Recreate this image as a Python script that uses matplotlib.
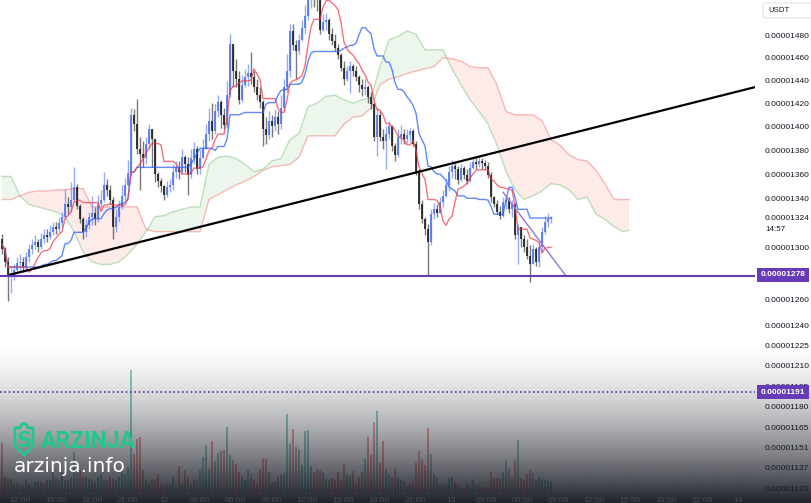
import numpy as np
import pandas as pd
import matplotlib
matplotlib.use("Agg")
import matplotlib.pyplot as plt
from matplotlib.patches import Polygon, FancyBboxPatch
from matplotlib.ticker import NullLocator, FixedLocator

plt.rcParams['font.family'] = ['Liberation Sans', 'DejaVu Sans']

UNIT = 1e-8  # prices below are in units of 0.00000001 USDT

# 15-minute candles (first open, then close / high / low)
first_open = 1307
closes = [1299, 1289, 1277, 1279, 1283, 1288, 1289, 1285, 1293, 1299,
          1302, 1305, 1301, 1307, 1310, 1309, 1313, 1317, 1315, 1320,
          1325, 1335, 1333, 1339, 1349, 1334, 1323, 1313, 1318, 1325,
          1328, 1323, 1335, 1339, 1351, 1347, 1339, 1317, 1325, 1333,
          1342, 1351, 1361, 1410, 1402, 1381, 1377, 1373, 1385, 1398,
          1389, 1360, 1354, 1350, 1343, 1349, 1351, 1362, 1366, 1362,
          1374, 1368, 1359, 1373, 1381, 1364, 1373, 1381, 1394, 1405,
          1396, 1413, 1421, 1410, 1401, 1427, 1472, 1448, 1441, 1423,
          1436, 1443, 1446, 1443, 1434, 1427, 1421, 1398, 1393, 1405,
          1400, 1408, 1402, 1416, 1434, 1448, 1484, 1471, 1466, 1476,
          1487, 1498, 1515, 1522, 1518, 1512, 1485, 1492, 1494, 1481,
          1475, 1469, 1462, 1451, 1441, 1448, 1453, 1448, 1443, 1436,
          1432, 1434, 1425, 1419, 1391, 1410, 1391, 1388, 1394, 1400,
          1383, 1376, 1391, 1394, 1389, 1393, 1396, 1385, 1362, 1335,
          1323, 1315, 1305, 1327, 1331, 1328, 1337, 1342, 1351, 1362,
          1367, 1364, 1355, 1365, 1359, 1354, 1365, 1370, 1368, 1371,
          1369, 1367, 1359, 1341, 1335, 1329, 1326, 1337, 1339, 1331,
          1335, 1310, 1317, 1307, 1301, 1294, 1287, 1299, 1289, 1301,
          1313, 1321, 1323, 1324]
highs = [1311, 1301, 1293, 1285, 1287, 1293, 1295, 1293, 1297, 1303,
         1307, 1310, 1307, 1312, 1315, 1315, 1318, 1321, 1321, 1325,
         1329, 1348, 1341, 1353, 1366, 1352, 1335, 1325, 1323, 1329,
         1342, 1333, 1343, 1347, 1362, 1356, 1351, 1341, 1331, 1339,
         1351, 1357, 1372, 1416, 1415, 1424, 1391, 1388, 1391, 1402,
         1398, 1381, 1362, 1357, 1351, 1354, 1356, 1368, 1371, 1371,
         1381, 1376, 1374, 1381, 1387, 1383, 1381, 1389, 1402, 1416,
         1420, 1419, 1427, 1423, 1416, 1439, 1481, 1472, 1459, 1448,
         1445, 1450, 1454, 1465, 1448, 1441, 1434, 1423, 1408, 1413,
         1410, 1415, 1413, 1427, 1441, 1463, 1490, 1490, 1476, 1481,
         1494, 1508, 1530, 1545, 1548, 1535, 1510, 1499, 1500, 1496,
         1487, 1481, 1472, 1464, 1457, 1453, 1457, 1454, 1453, 1445,
         1441, 1441, 1436, 1430, 1420, 1416, 1413, 1398, 1400, 1405,
         1401, 1386, 1398, 1401, 1398, 1398, 1399, 1398, 1388, 1364,
         1339, 1325, 1319, 1331, 1336, 1335, 1341, 1347, 1357, 1367,
         1372, 1370, 1367, 1368, 1367, 1364, 1370, 1374, 1373, 1375,
         1373, 1372, 1370, 1362, 1342, 1339, 1334, 1341, 1343, 1341,
         1339, 1336, 1319, 1315, 1310, 1307, 1302, 1303, 1301, 1304,
         1317, 1326, 1328, 1326]
lows = [1295, 1285, 1259, 1265, 1275, 1280, 1283, 1281, 1281, 1289,
        1295, 1299, 1297, 1299, 1304, 1305, 1307, 1310, 1311, 1313,
        1317, 1323, 1327, 1329, 1337, 1331, 1320, 1307, 1309, 1315,
        1318, 1318, 1321, 1333, 1337, 1342, 1335, 1307, 1313, 1321,
        1331, 1339, 1350, 1359, 1396, 1377, 1347, 1366, 1368, 1381,
        1366, 1353, 1349, 1345, 1339, 1341, 1345, 1347, 1357, 1356,
        1360, 1362, 1343, 1357, 1368, 1360, 1360, 1373, 1381, 1388,
        1389, 1394, 1408, 1399, 1398, 1399, 1425, 1434, 1434, 1419,
        1421, 1434, 1435, 1437, 1430, 1423, 1416, 1383, 1385, 1389,
        1391, 1396, 1394, 1398, 1413, 1430, 1443, 1467, 1441, 1463,
        1475, 1481, 1494, 1505, 1506, 1502, 1481, 1484, 1485, 1476,
        1471, 1466, 1459, 1448, 1436, 1439, 1429, 1444, 1439, 1430,
        1426, 1427, 1420, 1415, 1388, 1375, 1388, 1381, 1364, 1389,
        1379, 1371, 1374, 1385, 1385, 1386, 1388, 1383, 1359, 1331,
        1320, 1310, 1279, 1302, 1323, 1325, 1328, 1333, 1341, 1346,
        1357, 1356, 1352, 1354, 1356, 1352, 1353, 1364, 1364, 1366,
        1364, 1364, 1357, 1337, 1333, 1327, 1323, 1325, 1331, 1328,
        1325, 1307, 1287, 1301, 1297, 1291, 1273, 1289, 1286, 1285,
        1297, 1311, 1317, 1320]
volumes = [50, 16, 14, 14, 9, 10, 8, 8, 14, 9, 6, 11, 12, 11, 9, 13, 13, 21, 15, 13,
           21, 13, 13, 16, 41, 20, 23, 16, 16, 14, 13, 11, 16, 19, 13, 13, 16, 14, 13, 16,
           23, 19, 26, 123, 39, 54, 56, 23, 13, 11, 14, 13, 19, 9, 8, 9, 8, 16, 6, 27,
           9, 23, 16, 9, 13, 13, 23, 36, 48, 24, 52, 32, 40, 42, 43, 66, 38, 33, 29, 21,
           16, 13, 23, 19, 13, 8, 24, 34, 34, 21, 11, 11, 16, 18, 19, 79, 49, 64,
           46, 44, 28, 62, 63, 27, 21, 24, 23, 21, 14, 13, 15, 13, 21, 13, 29, 19,
           17, 22, 9, 16, 21, 34, 56, 38, 71, 82, 30, 52, 24, 19, 16, 24, 16, 13,
           12, 6, 9, 12, 31, 42, 34, 28, 65, 39, 19, 16, 8, 8, 9, 15, 16, 11,
           9, 6, 5, 9, 7, 13, 9, 8, 6, 6, 5, 21, 15, 15, 15, 21, 33, 24,
           15, 33, 53, 15, 13, 19, 23, 20, 13, 16, 14, 13, 13, 12]

# Ichimoku cloud (leading spans, drawn 26 bars ahead), every 3rd bar
cloud_idx = list(range(0, 208, 3)) + [209]
span_a = [1358, 1358, 1342, 1335, 1333, 1331, 1329, 1325, 1313, 1297,
          1289, 1287, 1287, 1289, 1295, 1303, 1313, 1325, 1326, 1329,
          1331, 1333, 1333, 1368, 1374, 1375, 1373, 1368, 1362, 1364,
          1371, 1373, 1389, 1394, 1417, 1420, 1426, 1427, 1423, 1420,
          1423, 1425, 1452, 1476, 1479, 1484, 1481, 1467, 1467, 1467,
          1450, 1436, 1423, 1413, 1402, 1384, 1362, 1347, 1339, 1342,
          1346, 1352, 1351, 1347, 1339, 1341, 1327, 1323, 1317, 1313, 1314]
span_b = [1339, 1339, 1342, 1345, 1346, 1346, 1347, 1347, 1348, 1348,
          1333, 1333, 1333, 1333, 1333, 1333, 1315, 1313, 1313, 1313,
          1313, 1313, 1313, 1339, 1343, 1347, 1351, 1354, 1358, 1363,
          1366, 1367, 1368, 1374, 1392, 1392, 1392, 1392, 1402, 1408,
          1409, 1416, 1436, 1441, 1443, 1446, 1448, 1450, 1452, 1460,
          1459, 1457, 1452, 1451, 1451, 1436, 1413, 1410, 1410, 1410,
          1405, 1389, 1384, 1376, 1372, 1371, 1363, 1352, 1339, 1339, 1339]

price_ticks = [1480, 1460, 1440, 1420, 1400, 1380, 1360, 1340, 1324, 1300,
               1260, 1240, 1225, 1210, 1195, 1180, 1165, 1151, 1137, 1123]
support_level = 1278
volume_level = 1191
trend_line = ([2.67, 251], [1279, 1434])
down_line = ([167, 187.7], [1345, 1279])
time_labels = ["12:00", "15:00", "18:00", "21:00", "12", "03:00", "06:00", "09:00",
               "12:00", "15:00", "18:00", "21:00", "13", "03:00", "06:00", "09:00",
               "12:00", "15:00", "18:00", "21:00", "14"]

W, H = 811, 503
fig = plt.figure(figsize=(W / 100, H / 100), dpi=100, facecolor='white')

# volume pane (behind)
vax = fig.add_axes([0, 10 / H, 755 / W, 150 / H], zorder=0)
vax.set_xlim(-2 / 3, 753 / 3)
vax.set_ylim(0, 150)
vax.axis('off')

ax = fig.add_axes([0, 0, 755 / W, 1], zorder=1)
ax.patch.set_alpha(0)
ax.set_yscale('log')
ax.set_xlim(-2 / 3, 753 / 3)
ax.set_ylim(1300 * np.exp(-255 / 1640) * UNIT, 1300 * np.exp(248 / 1640) * UNIT)
for s in ax.spines.values():
    s.set_visible(False)
ax.set_xticks([])
ax.yaxis.tick_right()
ax.yaxis.set_major_locator(FixedLocator([p * UNIT for p in price_ticks]))
ax.yaxis.set_minor_locator(NullLocator())
ax.set_yticklabels([f"{p * UNIT:.8f}" for p in price_ticks])
ax.tick_params(axis='y', length=0, pad=7.2, labelsize=6, labelcolor='#131722')

n = len(closes)
idx = np.arange(n)
c = np.array(closes) * UNIT
o = np.array([first_open] + closes[:-1]) * UNIT
h = np.maximum(np.array(highs) * UNIT, np.maximum(o, c))
l = np.minimum(np.array(lows) * UNIT, np.minimum(o, c))
up = c >= o

# cloud
ci = np.array(cloud_idx)
sa = np.array(span_a) * UNIT
sb = np.array(span_b) * UNIT
ax.fill_between(ci, sa, sb, where=sa >= sb, interpolate=True, color='#4caf50', alpha=0.1, lw=0, zorder=1)
ax.fill_between(ci, sa, sb, where=sa < sb, interpolate=True, color='#f44336', alpha=0.1, lw=0, zorder=1)
ax.plot(ci, sa, color='#4caf50', alpha=0.35, lw=1, zorder=1.5)
ax.plot(ci, sb, color='#f44336', alpha=0.35, lw=1, zorder=1.5)

# candles
up_col, dn_col = '#4f74ee', '#1e1e1e'
cols = np.where(up, up_col, dn_col)
ax.vlines(idx, l, h, colors=cols, lw=1, alpha=0.6, zorder=2)
body = np.maximum(np.abs(c - o), 0.6 * UNIT)
ax.bar(idx, body, bottom=np.minimum(o, c), width=0.75, color=cols, alpha=0.85, lw=0, zorder=3)

# tenkan / kijun
hs, ls = pd.Series(h), pd.Series(l)
tenkan = (hs.rolling(9, min_periods=1).max() + ls.rolling(9, min_periods=1).min()) / 2
kijun = (hs.rolling(26, min_periods=1).max() + ls.rolling(26, min_periods=1).min()) / 2
ax.plot(idx, kijun, color='#2962ff', lw=1, alpha=0.75, zorder=4)
ax.plot(idx, tenkan, color='#f23645', lw=1, alpha=0.7, zorder=4)

# drawings
ax.plot(trend_line[0], [p * UNIT for p in trend_line[1]], color='black', lw=1.6, zorder=5)
ax.plot(down_line[0], [p * UNIT for p in down_line[1]], color='#9575cd', lw=1, zorder=5)
ax.axhline(support_level * UNIT, color='#673ab7', lw=1.5, zorder=5)
ax.axhline(volume_level * UNIT, color='#673ab7', lw=1.2, ls=(0, (1, 1.6)), zorder=5)

# volume bars
vcols = np.where(up, '#26a69a', '#ef5350')
vax.bar(idx, volumes, width=0.6, color=vcols, alpha=0.55, lw=0)

# overlay: gradient, watermark, labels
ov = fig.add_axes([0, 0, 1, 1], zorder=5)
ov.set_xlim(0, W)
ov.set_ylim(H, 0)
ov.axis('off')
ov.patch.set_alpha(0)
yy = np.arange(H)
t = np.clip((yy - 340) / 160.0, 0, 1)
grad = np.zeros((H, 1, 4))
grad[:, 0, 0] = 24 / 255
grad[:, 0, 1] = 26 / 255
grad[:, 0, 2] = 36 / 255
grad[:, 0, 3] = 0.95 * t ** 1.6
ov.imshow(grad, extent=(0, W, H, 0), aspect='auto', interpolation='bilinear', zorder=2)

ov.text(765, 229.5, "14:57", fontsize=5.8, color='#131722', va='center', ha='left', zorder=3)

for k, lab in enumerate(time_labels):
    ov.text(20 + 35.9 * k, 500.5, lab, fontsize=6, color='#4a4c57', ha='center', va='center', zorder=3)

# price boxes
for val, yc in [(support_level, 275), (volume_level, 392)]:
    ov.add_patch(FancyBboxPatch((757, yc - 7), 52, 14, boxstyle='square,pad=0',
                                fc='#673ab7', ec='none', zorder=4))
    ov.text(783, yc, f"{val * UNIT:.8f}", fontsize=6, color='white', ha='center',
            va='center', fontweight='bold', zorder=5)

ov.add_patch(FancyBboxPatch((763, 3), 52, 15, boxstyle='round,pad=0,rounding_size=3',
                            fc='white', ec='#e0e3eb', lw=0.8, zorder=4))
ov.text(768, 10.5, "USDT", fontsize=5.6, color='#131722', va='center', zorder=5)

# watermark
green = '#1fc98e'
shield = [(15, 428), (20, 428), (22, 424), (26, 424), (28, 428), (33, 428),
          (33, 446), (24, 455), (15, 446)]
ov.add_patch(Polygon(shield, closed=True, fc='none', ec=green, lw=2, zorder=6))
ov.text(24, 441, "S", fontsize=15, fontweight='bold', color=green, ha='center',
        va='center', zorder=6, family='DejaVu Sans')
ov.text(41, 441, "ARZINJA", fontsize=16.5, fontweight='bold', color=green, ha='left',
        va='center', zorder=6, family='Roboto')
ov.text(14, 467, "arzinja.info", fontsize=14.5, color='white', ha='left',
        va='center', zorder=6, family='DejaVu Sans')

fig.savefig("out.png", dpi=100)
